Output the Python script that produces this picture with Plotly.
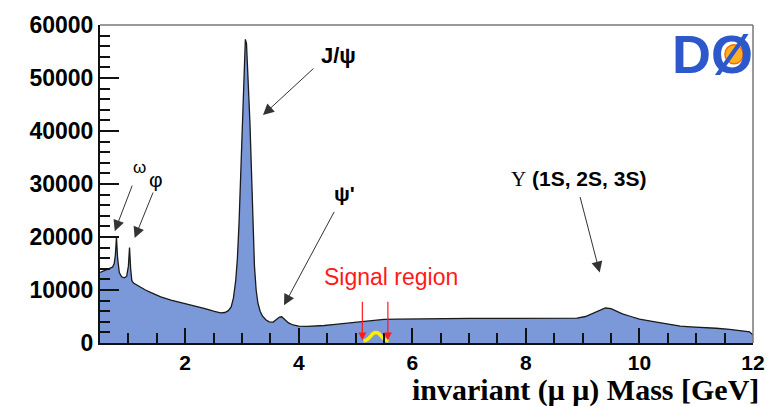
import plotly.graph_objects as go

# Dimuon invariant mass spectrum
mass = [0.50, 0.55, 0.62, 0.67, 0.72, 0.75, 0.77, 0.79, 0.81, 0.84, 0.88, 0.93, 0.97, 1.00, 1.02, 1.04,
        1.06, 1.09, 1.15, 1.20, 1.30, 1.40, 1.57, 1.75, 1.95, 2.16, 2.35, 2.50, 2.62, 2.70, 2.76, 2.81,
        2.85, 2.89, 2.92, 2.95, 2.98, 3.00, 3.02, 3.04, 3.06, 3.08, 3.10, 3.12, 3.14, 3.16, 3.18, 3.20,
        3.22, 3.25, 3.28, 3.32, 3.36, 3.42, 3.48, 3.55, 3.61, 3.66, 3.70, 3.75, 3.82, 3.90, 4.00, 4.15,
        4.30, 4.45, 4.60, 4.80, 5.00, 5.15, 5.30, 5.50, 5.75, 6.00, 6.30, 6.60, 7.00, 7.40, 7.80, 8.20,
        8.60, 8.90, 9.05, 9.20, 9.30, 9.40, 9.50, 9.60, 9.70, 9.85, 10.00, 10.25, 10.50, 10.72, 10.90,
        11.13, 11.35, 11.59, 11.80, 11.94, 12.00]
events = [13300, 13500, 13800, 14000, 14300, 15000, 16500, 20000, 16000, 13300, 12500, 12300, 12600, 14500, 18000, 14000,
          11800, 11300, 10900, 10600, 10000, 9500, 8700, 8100, 7600, 7100, 6500, 6000, 5700, 5750, 6100, 6800,
          8500, 11800, 16000, 23000, 33000, 41000, 48000, 54000, 57300, 56500, 52000, 46000, 41700, 35000, 29000, 21000,
          14500, 10000, 7600, 6000, 5100, 4400, 4000, 3950, 4400, 4900, 4950, 4500, 3800, 3400, 3200, 3150,
          3200, 3300, 3450, 3650, 3900, 4050, 4200, 4450, 4500, 4550, 4600, 4620, 4650, 4650, 4650, 4620,
          4600, 4700, 5000, 5700, 6200, 6600, 6500, 6000, 5500, 5000, 4500, 4050, 3600, 3200, 3050,
          2950, 2780, 2580, 2350, 2100, 1500]

# Signal expectation (small yellow bump)
sig_mass = [5.14, 5.20, 5.26, 5.31, 5.36, 5.41, 5.46, 5.52, 5.58]
sig_events = [350, 600, 1200, 1800, 2000, 1800, 1200, 600, 350]

# axis tick values
x_major = [2, 4, 6, 8, 10, 12]
y_major = [0, 10000, 20000, 30000, 40000, 50000, 60000]

fig = go.Figure()
fig.add_trace(go.Scatter(x=mass, y=events, mode="lines", fill="tozeroy",
                         fillcolor="#7b98d8", line=dict(color="#1a1a1a", width=1.3),
                         hoverinfo="skip", showlegend=False))
fig.add_trace(go.Scatter(x=sig_mass, y=sig_events, mode="lines",
                         line=dict(color="#ffee00", width=3.5, shape="spline"),
                         hoverinfo="skip", showlegend=False))

bold = dict(family="Liberation Sans, Arial, sans-serif", color="black", weight="bold")

fig.update_layout(
    width=777, height=406,
    margin=dict(l=100, r=17, t=22, b=63),
    paper_bgcolor="white", plot_bgcolor="white",
    xaxis=dict(range=[0.5, 12], tickvals=x_major, ticks="inside", ticklen=15, tickwidth=2,
               tickcolor="#111", showgrid=False, zeroline=False, showline=True, linecolor="#111",
               linewidth=2, tickfont=dict(size=21, **bold),
               minor=dict(dtick=0.5, tick0=0, ticks="inside", ticklen=10, tickwidth=2,
                          tickcolor="#111", showgrid=False)),
    yaxis=dict(range=[0, 60000], tickvals=y_major, tickformat="d", ticks="inside", ticklen=19,
               tickwidth=2, tickcolor="#111", showgrid=False, zeroline=False, showline=True,
               linecolor="#111", linewidth=2, tickfont=dict(size=23, **bold),
               minor=dict(dtick=2000, tick0=0, ticks="inside", ticklen=10, tickwidth=2,
                          tickcolor="#111", showgrid=False)),
)

# frame top and right
fig.add_shape(type="line", xref="paper", yref="paper", x0=0, x1=1, y0=1, y1=1,
              line=dict(color="#777", width=1.5))
fig.add_shape(type="line", xref="paper", yref="paper", x0=1, x1=1, y0=0, y1=1,
              line=dict(color="#777", width=1.5))

# arrows (tip in data coords, tail as pixel offsets)
arrows = [
    (3.37, 43000, 52, -48),
    (3.74, 7100, 51, -95),
    (0.76, 21100, 18, -47),
    (1.11, 19800, 19, -47),
    (9.30, 13300, -20, -77),
]
for x, y, ax, ay in arrows:
    fig.add_annotation(x=x, y=y, ax=ax, ay=ay, text="", showarrow=True, arrowhead=2,
                       arrowsize=2.2, arrowwidth=1, arrowcolor="#333")

# signal region arrows
for x in [5.12, 5.57]:
    fig.add_annotation(x=x, y=500, ax=0, ay=-40, text="", showarrow=True, arrowhead=2,
                       arrowsize=1.3, arrowwidth=1.2, arrowcolor="#ff1a1a")

fig.add_annotation(x=4.70, y=54200, text="J/ψ", showarrow=False, font=dict(size=22, **bold))
fig.add_annotation(x=4.80, y=28200, text="ψ'", showarrow=False, font=dict(size=21, **bold))
fig.add_annotation(x=1.20, y=33100, text="ω", showarrow=False, font=dict(size=17, family="Liberation Sans", color="black"))
fig.add_annotation(x=1.48, y=30850, text="φ", showarrow=False, font=dict(size=21, family="Liberation Sans", color="black"))
fig.add_annotation(x=8.92, y=31000,
                   text="<span style='font-family:Liberation Serif;font-weight:normal'>Υ</span> (1S, 2S, 3S)",
                   showarrow=False, font=dict(size=21, **bold))
fig.add_annotation(x=5.62, y=12500, text="Signal region", showarrow=False,
                   font=dict(size=23, family="Liberation Sans, Arial, sans-serif", color="#ff1a1a"))

# x-axis title
fig.add_annotation(xref="paper", yref="paper", x=1.012, y=-0.148, xanchor="right", yanchor="middle",
                   text="invariant (μ μ) Mass [GeV]", showarrow=False,
                   font=dict(size=30, family="Liberation Serif, Times New Roman, serif",
                             color="black", weight="bold"))

# D0 logo (text rendition)
fig.add_annotation(xref="paper", yref="paper", x=0.938, y=0.91, xanchor="center", yanchor="middle",
                   text="DØ", showarrow=False,
                   font=dict(size=54, family="Liberation Sans, Arial, sans-serif", color="#2d58cc",
                             weight="bold"))
fig.add_shape(type="circle", xref="paper", yref="paper", x0=0.957, x1=0.985, y0=0.878, y1=0.938,
              fillcolor="#ffb020", line=dict(color="#ff6a00", width=1.5))

fig.write_html("out.html")
